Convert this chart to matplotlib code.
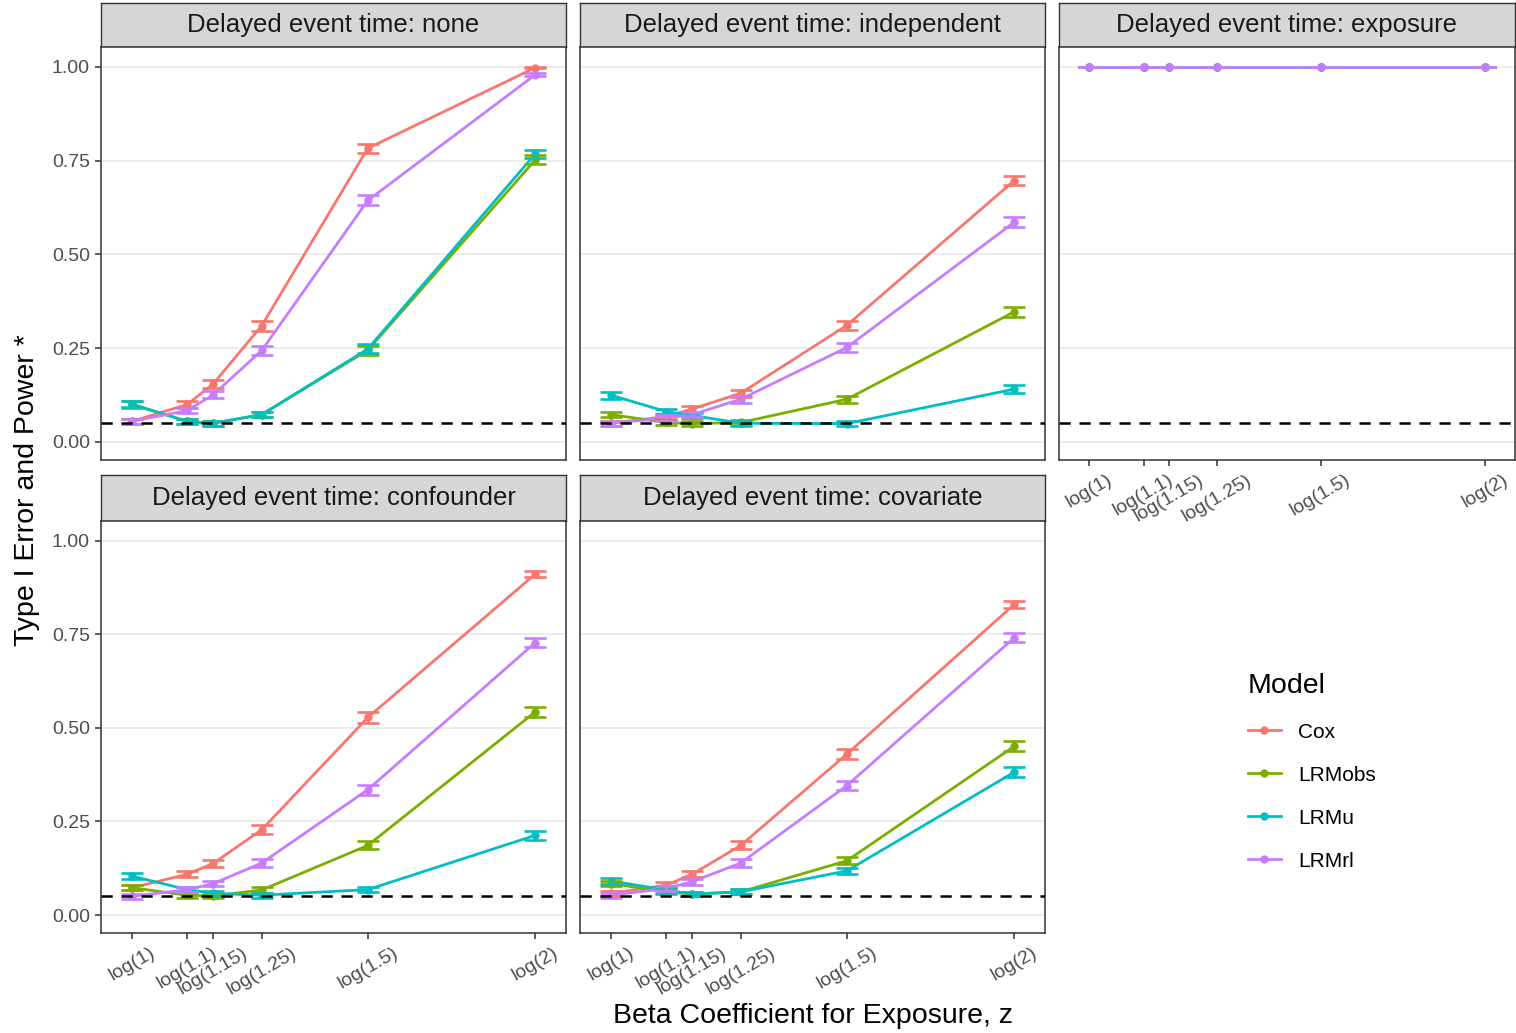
import numpy as np
import matplotlib
matplotlib.use("Agg")
import matplotlib.pyplot as plt
from matplotlib.lines import Line2D

plt.rcParams["font.family"] = ["Liberation Sans", "DejaVu Sans"]

# ---- data ----
x_labels = ["log(1)", "log(1.1)", "log(1.15)", "log(1.25)", "log(1.5)", "log(2)"]
hazard_ratios = [1.0, 1.1, 1.15, 1.25, 1.5, 2.0]
models = ["Cox", "LRMobs", "LRMu", "LRMrl"]
model_colors = ["#F8766D", "#7CAE00", "#00BFC4", "#C77CFF"]
panel_titles = ["Delayed event time: none", "Delayed event time: independent",
                "Delayed event time: exposure", "Delayed event time: confounder",
                "Delayed event time: covariate"]
alpha_level = 0.05
n_sims = 5000   # simulations per cell, used for the binomial CI

power_none = {
  "Cox":    [0.055, 0.100, 0.155, 0.310, 0.783, 0.998],
  "LRMobs": [0.100, 0.055, 0.050, 0.073, 0.245, 0.752],
  "LRMu":   [0.101, 0.055, 0.050, 0.073, 0.248, 0.768],
  "LRMrl":  [0.055, 0.084, 0.126, 0.244, 0.644, 0.979],
}
power_independent = {
  "Cox":    [0.050, 0.068, 0.088, 0.130, 0.311, 0.697],
  "LRMobs": [0.073, 0.052, 0.049, 0.052, 0.114, 0.347],
  "LRMu":   [0.125, 0.081, 0.071, 0.050, 0.049, 0.141],
  "LRMrl":  [0.050, 0.064, 0.073, 0.114, 0.252, 0.586],
}
power_exposure = {
  "Cox":    [1.0, 1.0, 1.0, 1.0, 1.0, 1.0],
  "LRMobs": [1.0, 1.0, 1.0, 1.0, 1.0, 1.0],
  "LRMu":   [1.0, 1.0, 1.0, 1.0, 1.0, 1.0],
  "LRMrl":  [1.0, 1.0, 1.0, 1.0, 1.0, 1.0],
}
power_confounder = {
  "Cox":    [0.073, 0.109, 0.138, 0.228, 0.528, 0.911],
  "LRMobs": [0.073, 0.053, 0.051, 0.067, 0.186, 0.543],
  "LRMu":   [0.104, 0.068, 0.058, 0.053, 0.068, 0.213],
  "LRMrl":  [0.050, 0.068, 0.084, 0.139, 0.335, 0.728],
}
power_covariate = {
  "Cox":    [0.058, 0.080, 0.109, 0.186, 0.430, 0.830],
  "LRMobs": [0.084, 0.062, 0.056, 0.062, 0.145, 0.451],
  "LRMu":   [0.091, 0.067, 0.056, 0.062, 0.118, 0.382],
  "LRMrl":  [0.053, 0.071, 0.089, 0.139, 0.346, 0.741],
}
panel_data = [power_none, power_independent, power_exposure,
              power_confounder, power_covariate]

# ---- layout (pixels) ----
W, H = 1516, 1033
fig = plt.figure(figsize=(W/100, H/100), dpi=100)

cols = [(101, 566), (580, 1045), (1059, 1515)]
rows = [(3, 47, 460), (475, 521, 933)]  # strip top, panel top, panel bottom

def box(x0, x1, yt, yb):
  return [x0/W, 1 - yb/H, (x1-x0)/W, (yb-yt)/H]

edge = "#333333"
beta = np.log(hazard_ratios)

for i, (title, data) in enumerate(zip(panel_titles, panel_data)):
  r, c = divmod(i, 3)
  x0, x1 = cols[c]
  st, pt, pb = rows[r]

  # strip
  sax = fig.add_axes(box(x0, x1, st, pt))
  sax.set_facecolor("#D6D6D6")
  sax.set_xticks([]); sax.set_yticks([])
  for s in sax.spines.values():
    s.set_color(edge); s.set_linewidth(1.0)
  sax.text(0.5, 0.5, title, ha="center", va="center", fontsize=18.5,
           color="#1A1A1A", transform=sax.transAxes)

  ax = fig.add_axes(box(x0, x1, pt, pb))
  ax.set_xlim(-0.053, 0.746)
  ax.set_ylim(-0.048, 1.053)
  ax.set_yticks([0, 0.25, 0.5, 0.75, 1.0])
  ax.set_yticklabels(["0.00", "0.25", "0.50", "0.75", "1.00"])
  ax.set_xticks(beta)
  ax.set_xticklabels(x_labels)
  ax.grid(axis="y", color="#EBEBEB", lw=1.3, zorder=0)
  ax.set_axisbelow(True)
  for s in ax.spines.values():
    s.set_color(edge); s.set_linewidth(1.1)
  ax.tick_params(length=4, width=1.1, color=edge, labelcolor="#4D4D4D",
                 labelsize=14, pad=4)
  for lab in ax.get_xticklabels():
    lab.set_rotation(30); lab.set_ha("center"); lab.set_va("top")

  # y axis only on the left column, x axis only where nothing sits below
  if c != 0:
    ax.tick_params(axis="y", left=False, labelleft=False)
  if r == 0 and c != 2:
    ax.tick_params(axis="x", bottom=False, labelbottom=False)

  for m, col in zip(models, model_colors):
    ax.plot(beta, data[m], color=col, lw=2.0, zorder=2)
  for m, col in zip(models, model_colors):
    ax.plot(beta, data[m], "o", color=col, ms=5, zorder=3)
  for m, col in zip(models, model_colors):
    p = np.array(data[m])
    ci = 1.96*np.sqrt(p*(1-p)/n_sims)
    ax.errorbar(beta, p, yerr=ci, fmt="none", ecolor=col, elinewidth=1.9,
                capsize=8, capthick=1.9, zorder=4)
  ax.axhline(alpha_level, color="black", lw=1.8, ls=(0, (4.5, 3.5)), zorder=5)

fig.text(27/W, 1 - 490/H, "Type I Error and Power *", rotation=90,
         ha="center", va="center", fontsize=20.5, color="black")
fig.text(813/W, 1 - 1016/H, "Beta Coefficient for Exposure, z",
         ha="center", va="center", fontsize=20.5, color="black")

handles = [Line2D([], [], color=col, lw=2.0, marker="o", ms=5)
           for col in model_colors]
leg = fig.legend(handles, models, title="Model", loc="upper left",
                 bbox_to_anchor=(1229/W, 1 - 654/H), frameon=False,
                 fontsize=15, title_fontsize=20.5, labelspacing=1.15,
                 handlelength=1.6, handletextpad=0.8, alignment="left")

fig.savefig("out.png", dpi=100)
